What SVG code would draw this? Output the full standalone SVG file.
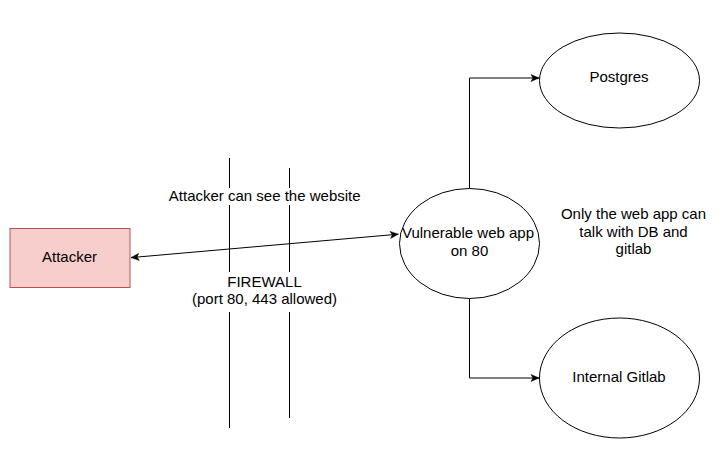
<svg xmlns="http://www.w3.org/2000/svg" width="727" height="450" viewBox="0 0 727 450">
  <style>
    .lbl { font-family: "Liberation Sans", Arial, Helvetica, sans-serif; font-size: 15px; fill: #000000; text-anchor: middle; }
    .node { fill: #ffffff; stroke: #000000; stroke-width: 1; }
    .conn { fill: none; stroke: #000000; stroke-width: 1; }
    .fw { stroke: #000000; stroke-width: 1; }
  </style>
  <defs>
    <marker id="arr" markerUnits="userSpaceOnUse" markerWidth="10" markerHeight="10" viewBox="0 0 10 10" refX="9" refY="5" orient="auto-start-reverse">
      <path d="M1,1.5 L9,5 L1,8.5 L3,5 Z" fill="#000000" stroke="#000000" stroke-width="0.5"/>
    </marker>
  </defs>
  <rect width="727" height="450" fill="#ffffff"/>

  <g id="firewall">
    <line class="fw" x1="229.5" y1="158" x2="229.5" y2="428"/>
    <line class="fw" x1="289.5" y1="168" x2="289.5" y2="418"/>
  </g>

  <g id="connectors">
    <path class="conn" d="M131,257.6 L398.3,234.2" marker-start="url(#arr)" marker-end="url(#arr)"/>
    <path class="conn" d="M469.5,188.5 V78 H539" marker-end="url(#arr)"/>
    <path class="conn" d="M469.5,298.5 V378 H539" marker-end="url(#arr)"/>
  </g>

  <g id="label-see">
    <rect x="160" y="188" width="210" height="17" fill="#ffffff"/>
    <text class="lbl" x="264.7" y="200.5">Attacker can see the website</text>
  </g>

  <g id="label-firewall">
    <rect x="180" y="272" width="170" height="40" fill="#ffffff"/>
    <text class="lbl" x="264.5" y="286.7">FIREWALL</text>
    <text class="lbl" x="264.5" y="304">(port 80, 443 allowed)</text>
  </g>

  <g id="attacker">
    <rect x="10" y="228.5" width="120" height="59" fill="#f8cecc" stroke="#b85450" stroke-width="1"/>
    <text class="lbl" x="69.5" y="261.7">Attacker</text>
  </g>

  <g id="webapp">
    <ellipse class="node" cx="469.5" cy="243.5" rx="70" ry="55"/>
    <text class="lbl" x="468" y="238">Vulnerable web app</text>
    <text class="lbl" x="469.5" y="255.5">on 80</text>
  </g>

  <g id="postgres">
    <ellipse class="node" cx="619.5" cy="80.5" rx="80" ry="47.5"/>
    <text class="lbl" x="619" y="82">Postgres</text>
  </g>

  <g id="gitlab">
    <ellipse class="node" cx="619.5" cy="378" rx="80" ry="60"/>
    <text class="lbl" x="619" y="381.7">Internal Gitlab</text>
  </g>

  <g id="note">
    <text class="lbl" x="633.5" y="219">Only the web app can</text>
    <text class="lbl" x="633.5" y="236.5">talk with DB and</text>
    <text class="lbl" x="633.5" y="254">gitlab</text>
  </g>
</svg>
